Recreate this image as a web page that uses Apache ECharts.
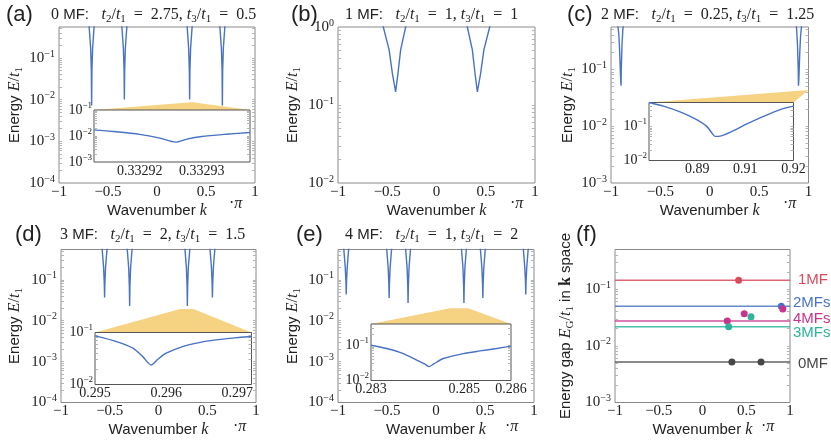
<!DOCTYPE html>
<html>
<head>
<meta charset="utf-8">
<script src="https://cdn.jsdelivr.net/npm/echarts@6.0.0/dist/echarts.min.js"></script>
<style>
  html, body { margin: 0; padding: 0; background: #fff; }
  #chart { width: 831px; height: 443px; }
</style>
</head>
<body>
<div id="chart"></div>
<script>
// ---- values ----

// (a) 0 MF, t2/t1 = 2.75, t3/t1 = 0.5
const kA = [-1, -0.697, -0.677, -0.670, -0.667, -0.664, -0.657, -0.637,
  -0.363, -0.343, -0.336, -0.333, -0.330, -0.323, -0.303,
  0.303, 0.323, 0.330, 0.333, 0.336, 0.343, 0.363,
  0.637, 0.657, 0.664, 0.667, 0.670, 0.677, 0.697, 1];
const eA = [2, 0.8, 0.17, 0.05, 0.0072, 0.05, 0.17, 0.8,
  0.8, 0.17, 0.05, 0.010, 0.05, 0.17, 0.8,
  0.8, 0.17, 0.05, 0.010, 0.05, 0.17, 0.8,
  0.8, 0.17, 0.05, 0.0072, 0.05, 0.17, 0.8, 2];
const kAIn = [0.3329126, 0.3329162, 0.3329200, 0.3329232, 0.3329258, 0.3329276, 0.3329300, 0.3329340, 0.3329378];
const eAIn = [0.0172, 0.0145, 0.0115, 0.0083, 0.0058, 0.0076, 0.0096, 0.0117, 0.0136];
const ticksAIn = [0.33292, 0.33293];

// (b) 1 MF
const kB = [-1, -0.55, -0.54, -0.481, -0.448, -0.415, -0.391, -0.364, -0.313, -0.30,
  0.30, 0.313, 0.364, 0.391, 0.415, 0.448, 0.481, 0.54, 0.55, 1];
const eB = [3, 1.2, 1.0, 0.51, 0.255, 0.147, 0.255, 0.51, 1.0, 1.2,
  1.2, 1.0, 0.51, 0.255, 0.147, 0.255, 0.51, 1.0, 1.2, 3];

// (c) 2 MF
const kC = [-1, -0.95, -0.935, -0.92, -0.9117, -0.9024, -0.8983, -0.896, -0.8886, -0.88, -0.86,
  0.86, 0.88, 0.8886, 0.896, 0.8983, 0.9024, 0.9117, 0.92, 0.935, 0.95, 1];
const eC = [2, 1.2, 0.7, 0.39, 0.196, 0.067, 0.051, 0.1, 0.265, 0.5, 1.2,
  1.2, 0.5, 0.265, 0.1, 0.051, 0.067, 0.196, 0.39, 0.7, 1.2, 2];
const kCIn = [0.88, 0.884, 0.8886, 0.8932, 0.896, 0.8974, 0.8983, 0.8997, 0.9024, 0.9071, 0.9117, 0.9163, 0.92];
const eCIn = [0.5, 0.39, 0.265, 0.158, 0.1, 0.064, 0.051, 0.052, 0.067, 0.118, 0.196, 0.31, 0.39];
const ticksCIn = [0.89333, 0.90667, 0.92];

// (d) 3 MF
const kD = [-1, -0.583, -0.563, -0.556, -0.553, -0.550, -0.543, -0.523,
  -0.326, -0.306, -0.299, -0.296, -0.293, -0.286, -0.266,
  0.266, 0.286, 0.293, 0.296, 0.299, 0.306, 0.326,
  0.523, 0.543, 0.550, 0.553, 0.556, 0.563, 0.583, 1];
const eD = [2, 0.8, 0.2, 0.08, 0.037, 0.08, 0.2, 0.8,
  0.8, 0.2, 0.07, 0.023, 0.07, 0.2, 0.8,
  0.8, 0.2, 0.07, 0.023, 0.07, 0.2, 0.8,
  0.8, 0.2, 0.08, 0.037, 0.08, 0.2, 0.8, 2];
const kDIn = [0.295, 0.295302, 0.295534, 0.295674, 0.29579, 0.295883, 0.296, 0.296232, 0.296464, 0.296697, 0.296929, 0.2972];
const eDIn = [0.086, 0.067, 0.050, 0.034, 0.0237, 0.0305, 0.040, 0.0536, 0.064, 0.072, 0.078, 0.084];
const ticksDIn = [0.295, 0.296, 0.297];

// (e) 4 MF
const kE = [-1, -0.946, -0.926, -0.919, -0.916, -0.913, -0.906, -0.886,
  -0.508, -0.488, -0.481, -0.478, -0.475, -0.468, -0.448,
  -0.315, -0.295, -0.288, -0.285, -0.282, -0.275, -0.255,
  0.255, 0.275, 0.282, 0.285, 0.288, 0.295, 0.315,
  0.448, 0.468, 0.475, 0.478, 0.481, 0.488, 0.508,
  0.886, 0.906, 0.913, 0.916, 0.919, 0.926, 0.946, 1];
const eE = [2, 0.8, 0.2, 0.09, 0.044, 0.09, 0.2, 0.8,
  0.8, 0.2, 0.08, 0.036, 0.08, 0.2, 0.8,
  0.8, 0.2, 0.07, 0.027, 0.07, 0.2, 0.8,
  0.8, 0.2, 0.07, 0.027, 0.07, 0.2, 0.8,
  0.8, 0.2, 0.08, 0.036, 0.08, 0.2, 0.8,
  0.8, 0.2, 0.09, 0.044, 0.09, 0.2, 0.8, 2];
const kEIn = [0.283, 0.283336, 0.283693, 0.283979, 0.284157, 0.284243, 0.284336, 0.28455, 0.284979, 0.285336, 0.285693, 0.286];
const eEIn = [0.1, 0.081, 0.058, 0.038, 0.029, 0.0247, 0.029, 0.042, 0.058, 0.069, 0.081, 0.094];
const ticksEIn = [0.283, 0.285, 0.286];

// (f) energy gaps
const gapNames = ['1MF', '2MFs', '4MFs', '3MFs', '0MF'];
const gapLevels = [0.144, 0.050, 0.0274, 0.0218, 0.0052];
const gapK1 = [0.413], gapE1 = [0.144];
const gapK2 = [0.90], gapE2 = [0.050];
const gapK4 = [0.283, 0.477, 0.918], gapE4 = [0.0274, 0.0369, 0.0446];
const gapK3 = [0.299, 0.554], gapE3 = [0.0218, 0.0327];
const gapK0 = [0.336, 0.669], gapE0 = [0.0052, 0.0052];

// zoom wedge tops (main-panel data coords)
const wedgeA = [0.350, 0.0086, 0.362, 0.0086];
const wedgeC = [1.0, 0.043, 1.0, 0.043];
const wedgeD = [0.221, 0.0193, 0.358, 0.0193];
const wedgeE = [0.141, 0.0202, 0.329, 0.0202];

// ---- layout ----
const SERIF = '"Liberation Serif", "DejaVu Serif", serif';
const SANS = '"Liberation Sans", "DejaVu Sans", sans-serif';
const INK = '#222';
const BLUE = '#4872c4';
const WEDGE = '#f6d283';
const gapColors = ['#d94a5e', '#4a73c6', '#c8338b', '#2db39c', '#474747'];

// [left, top, right, bottom] in px
const R = {
  a: [59, 27, 255, 183], b: [338, 27, 535, 183], c: [611, 27, 808.5, 183],
  d: [61, 249.5, 256, 402.5], e: [338, 249.5, 534, 402.5], f: [615, 249.5, 790, 402.5]
};
const INS = {
  a: [94, 110, 250, 162], c: [649, 102.5, 793.5, 160.5],
  d: [95, 332.5, 251.5, 384.5], e: [371, 324, 511, 380.5]
};

const N = 'normal';
const mathRich = {
  n: { fontFamily: SERIF, fontSize: 16, fontWeight: N, color: INK },
  i: { fontFamily: SERIF, fontStyle: 'italic', fontWeight: N, fontSize: 16, color: INK },
  d: { fontFamily: SERIF, fontSize: 11, fontWeight: N, lineHeight: 11, verticalAlign: 'bottom', color: INK },
  k: { fontFamily: SERIF, fontWeight: 'bold', fontSize: 16, color: INK },
  m: { fontFamily: SANS, fontSize: 15, fontWeight: N, color: INK }
};
const nameStyle = { fontFamily: SANS, fontSize: 15, fontWeight: N, color: INK, lineHeight: 20, rich: mathRich };

function powRich(fs) {
  return {
    b: { fontFamily: SERIF, fontSize: fs, color: INK, lineHeight: 18 },
    e: { fontFamily: SERIF, fontSize: fs - 5, color: INK, lineHeight: fs - 5, verticalAlign: 'top' }
  };
}
function powLabel(v) {
  const p = Math.log10(v), r = Math.round(p);
  if (Math.abs(p - r) > 1e-6) return '';
  return '{b|10}{e|' + (r < 0 ? '\u2212' + (-r) : r) + '}';
}
function logTicks(min, max) {
  const out = [];
  for (let p = -6; p <= 1; p++) {
    for (let m = 1; m <= 9; m++) {
      const v = m * Math.pow(10, p);
      if (v > min * 1.001 && v < max * 0.999) out.push(v);
    }
  }
  return out;
}
const kFmt = v => (v < 0 ? '\u2212' : '') + Math.abs(v);

const grid = [], xAxis = [], yAxis = [], series = [];

function addPlot(r, o) {
  const gi = grid.length;
  const inset = !!o.inset;
  const fs = inset ? 14 : 15;
  grid.push({
    left: r[0], top: r[1], width: r[2] - r[0], height: r[3] - r[1],
    show: true, borderWidth: 1, borderColor: inset ? '#555' : '#8a8a8a',
    backgroundColor: inset ? '#fff' : 'transparent', z: inset ? 4 : 0
  });
  const xLab = { fontFamily: SERIF, fontSize: fs, color: INK, margin: 2, lineHeight: 14, formatter: o.xFmt };
  if (o.xLabels) xLab.customValues = o.xLabels;
  xAxis.push({
    type: 'value', gridIndex: gi, min: o.x[0], max: o.x[1],
    interval: o.interval,
    axisLine: { show: false, onZero: false }, axisTick: { show: false }, splitLine: { show: false },
    axisLabel: xLab,
    name: o.xName || '', nameLocation: 'middle', nameGap: 14, nameTextStyle: nameStyle,
    z: inset ? 5 : 1
  });
  const tick = { show: true, inside: true, length: 3, customValues: logTicks(o.y[0], o.y[1]),
    lineStyle: { color: '#b4b4b4', width: 1 } };
  yAxis.push({
    type: 'log', logBase: 10, gridIndex: gi, min: o.y[0], max: o.y[1], position: 'left',
    axisLine: { show: false, onZero: false }, axisTick: tick, splitLine: { show: false },
    axisLabel: { margin: inset ? 2 : 4, formatter: powLabel, rich: powRich(fs) },
    name: o.yName || '', nameLocation: 'middle', nameRotate: 90, nameGap: o.yGap || 34,
    nameTextStyle: nameStyle, z: inset ? 5 : 1
  });
  yAxis.push({
    type: 'log', logBase: 10, gridIndex: gi, min: o.y[0], max: o.y[1], position: 'right',
    axisLine: { show: false, onZero: false }, axisTick: tick, axisLabel: { show: false },
    splitLine: { show: false }, z: inset ? 5 : 1
  });
  return { xi: gi, yi: 2 * gi };
}

function curve(ax, k, e, inset) {
  series.push({
    type: 'line', xAxisIndex: ax.xi, yAxisIndex: ax.yi,
    data: k.map((v, i) => [v, e[i]]),
    showSymbol: false, clip: true, silent: true, z: inset ? 6 : 2,
    smooth: inset ? 0.25 : false,
    lineStyle: { color: BLUE, width: 1.4 }, itemStyle: { color: BLUE }
  });
}

function wedge(ax, top, ins) {
  series.push({
    type: 'custom', xAxisIndex: ax.xi, yAxisIndex: ax.yi, z: 3, silent: true, clip: false,
    data: [top], encode: { x: [0, 2], y: [1, 3] },
    renderItem: (params, api) => {
      const p1 = api.coord([api.value(0), api.value(1)]);
      const p2 = api.coord([api.value(2), api.value(3)]);
      return {
        type: 'polygon',
        shape: { points: [[ins[0], ins[1]], p1, p2, [ins[2], ins[1]]] },
        style: { fill: WEDGE }
      };
    }
  });
}

const energyName = 'Energy {i|E}{n|/}{i|t}{d|1}';
const kName = 'Wavenumber {i|k}';
const main = (r, y, gap) => addPlot(r, { x: [-1, 1], interval: 0.5, y: y, xFmt: kFmt,
  xName: kName, yName: energyName, yGap: gap });

const aM = main(R.a, [1e-4, 0.55], 34);
const bM = main(R.b, [1e-2, 1], 35);
const cM = main(R.c, [1e-3, 0.55], 33);
const dM = main(R.d, [1e-4, 0.55], 36);
const eM = main(R.e, [1e-4, 0.55], 35);
const fM = addPlot(R.f, { x: [-1, 1], interval: 0.5, y: [1e-3, 0.5], xFmt: kFmt, xName: kName,
  yName: 'Energy gap {i|E}{d|G}{n|/}{i|t}{d|1} in {k|k} space', yGap: 39 });

const aI = addPlot(INS.a, { inset: true, x: [kAIn[0], kAIn[kAIn.length - 1]], y: [1e-3, 0.1],
  xLabels: ticksAIn, xFmt: v => v.toFixed(5) });
const cI = addPlot(INS.c, { inset: true, x: [0.88, 0.92], y: [0.01, 0.5],
  xLabels: ticksCIn, xFmt: v => v.toFixed(2) });
const dI = addPlot(INS.d, { inset: true, x: [0.295, 0.2972], y: [0.01, 0.1],
  xLabels: ticksDIn, xFmt: v => v.toFixed(3) });
const eI = addPlot(INS.e, { inset: true, x: [0.283, 0.286], y: [0.01, 0.4],
  xLabels: ticksEIn, xFmt: v => v.toFixed(3) });

curve(aM, kA, eA); curve(bM, kB, eB); curve(cM, kC, eC); curve(dM, kD, eD); curve(eM, kE, eE);
curve(aI, kAIn, eAIn, true); curve(cI, kCIn, eCIn, true);
curve(dI, kDIn, eDIn, true); curve(eI, kEIn, eEIn, true);

wedge(aM, wedgeA, INS.a); wedge(cM, wedgeC, INS.c);
wedge(dM, wedgeD, INS.d); wedge(eM, wedgeE, INS.e);

// (f): levels with end labels, then the dots
const labelOffsets = [[8, 0], [3, -3], [3, -2], [3, 6], [8, 2]];
gapNames.forEach((nm, i) => {
  series.push({
    type: 'line', name: nm, xAxisIndex: fM.xi, yAxisIndex: fM.yi,
    data: [[-1, gapLevels[i]], [1, gapLevels[i]]],
    showSymbol: false, silent: true, z: 2,
    lineStyle: { color: gapColors[i], width: 1.5, opacity: 0.85 }, itemStyle: { color: gapColors[i] },
    endLabel: { show: true, formatter: nm, color: gapColors[i], fontFamily: SANS, fontSize: 15,
      distance: 0, offset: labelOffsets[i] }
  });
});
[[gapK1, gapE1], [gapK2, gapE2], [gapK4, gapE4], [gapK3, gapE3], [gapK0, gapE0]].forEach((p, i) => {
  series.push({
    type: 'scatter', xAxisIndex: fM.xi, yAxisIndex: fM.yi, z: 3, silent: true,
    data: p[0].map((v, j) => [v, p[1][j]]), symbolSize: 7,
    itemStyle: { color: gapColors[i], opacity: 1 }
  });
});

// ---- free text ----
const letterStyle = { fontFamily: SANS, fontSize: 22, fontWeight: N, color: INK, lineHeight: 24 };
const headStyle = { fontFamily: SANS, fontSize: 15, fontWeight: N, color: INK, lineHeight: 20, rich: mathRich };
const EQ = '\u2002=\u2002';
const ratio = (a, b) => '{i|t}{d|2}{n|/}{i|t}{d|1}{n|' + EQ + a + ', }{i|t}{d|3}{n|/}{i|t}{d|1}{n|' + EQ + b + '}';
const head = (n, a, b) => '{n|' + n + '} {m|MF:}   ' + ratio(a, b);
const T = (text, left, top, style) => ({ text, left, top, padding: 0, textStyle: style });
const piText = '{n|\u00b7}{i|\u03c0}';

const title = [
  T('(a)', 6, 3, letterStyle), T(head(0, '2.75', '0.5'), 51, 5, headStyle),
  T('(b)', 291, 3, letterStyle), T(head(1, '1', '1'), 345, 5, headStyle),
  T('(c)', 567, 3, letterStyle), T(head(2, '0.25', '1.25'), 601, 5, headStyle),
  T('(d)', 15, 223, letterStyle), T(head(3, '2', '1.5'), 60, 225, headStyle),
  T('(e)', 296, 223, letterStyle), T(head(4, '1', '2'), 345, 225, headStyle),
  T('(f)', 576, 223, letterStyle),
  T(piText, 229, 194, headStyle), T(piText, 510, 194, headStyle), T(piText, 783, 194, headStyle),
  T(piText, 233, 417, headStyle), T(piText, 505, 417, headStyle), T(piText, 761, 417, headStyle)
];

const chart = echarts.init(document.getElementById('chart'));
chart.setOption({ animation: false, title, grid, xAxis, yAxis, series });
</script>
</body>
</html>
